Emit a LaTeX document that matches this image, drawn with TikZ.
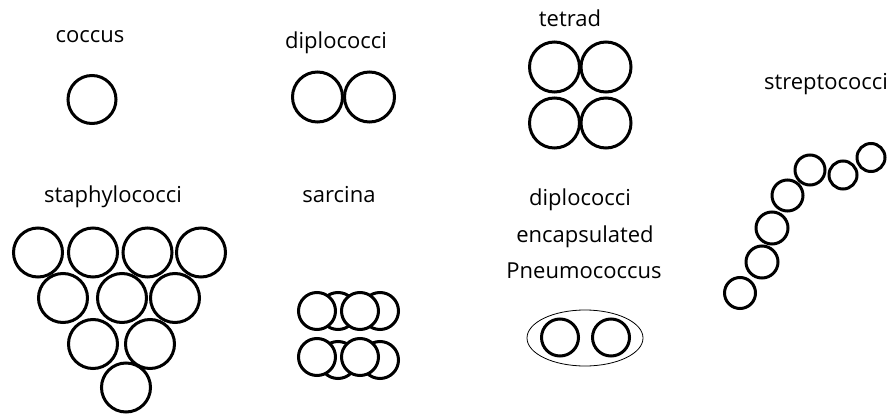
\documentclass[tikz,border=0pt]{standalone}
\usepackage{fontspec}
\setmainfont{Open Sans}
\usetikzlibrary{shapes.geometric}

\begin{document}
\begin{tikzpicture}[x=1pt,y=-1pt,
  cell/.style={circle,draw,fill=white,line width=3pt,inner sep=0pt,outer sep=0pt,minimum size=49pt},
  tag/.style={anchor=base,inner sep=0pt,font=\fontsize{22}{26}\selectfont}]
\useasboundingbox (0,0) rectangle (896,414);

\node (lc) at (90,43)[tag] {coccus};
\node (ld) at (336,49)[tag] {diplococci};
\node (lt) at (570,27)[tag] {tetrad};
\node (ls) at (826,90)[tag] {streptococci};
\node (lst) at (113,203)[tag] {staphylococci};
\node (lsa) at (339,203)[tag] {sarcina};
\node (lp1) at (580,205)[tag] {diplococci};
\node (lp2) at (585,242)[tag] {encapsulated};
\node (lp3) at (584,278)[tag] {Pneumococcus};

\node (c1) at (92,99.5)[cell,minimum size=48pt] {};

\node (d1) at (317.5,97)[cell,minimum size=50pt] {};
\node (d2) at (369.5,97)[cell,minimum size=50pt] {};

\node (t1) at (554.5,67)[cell,minimum size=50pt] {};
\node (t2) at (606,67)[cell,minimum size=50pt] {};
\node (t3) at (554.5,123)[cell,minimum size=50pt] {};
\node (t4) at (606,123)[cell,minimum size=50pt] {};

\node (s1) at (38,252.5)[cell] {};
\node (s2) at (93,252.5)[cell] {};
\node (s3) at (147.5,252.5)[cell] {};
\node (s4) at (201,252.5)[cell] {};
\node (s5) at (63,298)[cell] {};
\node (s6) at (122,298)[cell] {};
\node (s7) at (175,298)[cell] {};
\node (s8) at (93,344)[cell] {};
\node (s9) at (150,344)[cell] {};
\node (s10) at (126,387.5)[cell] {};

\node (sb1) at (338,311)[cell,minimum size=37pt] {};
\node (sb2) at (380,311)[cell,minimum size=37pt] {};
\node (sb3) at (338,360)[cell,minimum size=37pt] {};
\node (sb4) at (380,360)[cell,minimum size=37pt] {};
\node (sf1) at (317,311)[cell,minimum size=37pt] {};
\node (sf2) at (360,311)[cell,minimum size=37pt] {};
\node (sf3) at (317,357)[cell,minimum size=37pt] {};
\node (sf4) at (360,357)[cell,minimum size=37pt] {};

\node (caps) at (585,338)[ellipse,draw,line width=0.8pt,inner sep=0pt,minimum width=116pt,minimum height=56pt] {};
\node (p1) at (560,337.5)[cell,minimum size=37pt] {};
\node (p2) at (611,337.5)[cell,minimum size=37pt] {};

\node (k1) at (871,157.5)[cell,minimum size=28pt] {};
\node (k2) at (843,175)[cell,minimum size=28pt] {};
\node (k3) at (810,170)[cell,minimum size=30pt] {};
\node (k4) at (787.5,195.5)[cell,minimum size=31pt] {};
\node (k5) at (772,228)[cell,minimum size=32pt] {};
\node (k6) at (762,262)[cell,minimum size=32pt] {};
\node (k7) at (740,293)[cell,minimum size=31pt] {};
\end{tikzpicture}
\end{document}
